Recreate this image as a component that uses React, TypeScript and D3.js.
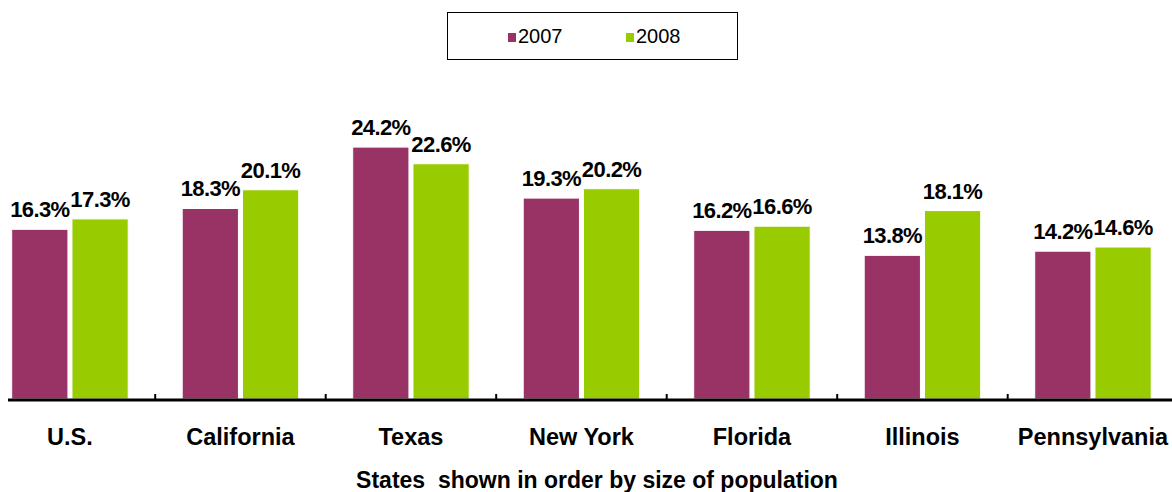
import React from 'react';
import { scaleBand, scaleLinear, select } from 'd3';

const categories = ['U.S.', 'California', 'Texas', 'New York', 'Florida', 'Illinois', 'Pennsylvania'];
const seriesNames = ['2007', '2008'];
const values2007 = [16.3, 18.3, 24.2, 19.3, 16.2, 13.8, 14.2];
const values2008 = [17.3, 20.1, 22.6, 20.2, 16.6, 18.1, 14.6];
const axisTitle = 'States  shown in order by size of population';

const colors = ['#993366', '#99cc00'];

const dims = {
    width: 1172,
    height: 492,
    baseY: 399,
    pxPerUnit: 10.41,
};

const font = '"Liberation Sans", Arial, sans-serif';

const App: React.FC = () => {
    const ref = React.useRef<SVGSVGElement>(null);

    React.useEffect(() => {
        const svg = select(ref.current);
        svg.selectAll('*').remove();

        const x = scaleBand<string>()
            .domain(categories)
            .range([-15.3, 1178.2])
            .paddingInner(54 / 170.5)
            .paddingOuter(27 / 170.5);
        const inner = scaleBand<string>()
            .domain(seriesNames)
            .range([0, x.bandwidth()])
            .paddingInner(4 / 60);
        const y = scaleLinear()
            .domain([0, 10])
            .range([dims.baseY, dims.baseY - dims.pxPerUnit * 10]);

        const rows = categories.map((c, i) => ({ cat: c, vals: [values2007[i], values2008[i]] }));

        const groups = svg.append('g').selectAll('g').data(rows).enter().append('g')
            .attr('transform', d => `translate(${x(d.cat)},0)`);

        groups.selectAll('rect')
            .data(d => d.vals.map((v, j) => ({ key: seriesNames[j], v, j })))
            .enter().append('rect')
            .attr('x', d => inner(d.key)!)
            .attr('y', d => y(d.v))
            .attr('width', inner.bandwidth())
            .attr('height', d => dims.baseY - y(d.v))
            .attr('fill', d => colors[d.j])
            .attr('stroke', '#fff')
            .attr('stroke-width', 1);

        groups.selectAll('text.val')
            .data(d => d.vals.map((v, j) => ({ key: seriesNames[j], v })))
            .enter().append('text')
            .attr('class', 'val')
            .attr('x', d => inner(d.key)! + inner.bandwidth() / 2)
            .attr('y', d => y(d.v) - 12)
            .attr('text-anchor', 'middle')
            .style('font-family', font)
            .style('font-weight', 'bold')
            .style('font-size', '22px')
            .style('letter-spacing', '-0.6px')
            .attr('fill', '#000')
            .text(d => `${d.v.toFixed(1)}%`);

        // axis line and ticks between categories
        svg.append('line')
            .attr('x1', 8).attr('x2', 1172)
            .attr('y1', dims.baseY + 1).attr('y2', dims.baseY + 1)
            .attr('stroke', '#000').attr('stroke-width', 3);
        const gap = x.step() - x.bandwidth();
        svg.append('g').selectAll('line').data(categories.slice(1)).enter().append('line')
            .attr('x1', d => x(d)! - gap / 2).attr('x2', d => x(d)! - gap / 2)
            .attr('y1', dims.baseY - 5).attr('y2', dims.baseY)
            .attr('stroke', '#000').attr('stroke-width', 2);

        svg.append('g').selectAll('text').data(categories).enter().append('text')
            .attr('x', d => x(d)! + x.bandwidth() / 2)
            .attr('y', 445)
            .attr('text-anchor', 'middle')
            .style('font-family', font)
            .style('font-weight', 'bold')
            .style('font-size', '23.5px')
            .text(d => d);

        svg.append('text')
            .attr('x', 597).attr('y', 488)
            .attr('text-anchor', 'middle')
            .style('font-family', font)
            .style('font-weight', 'bold')
            .style('font-size', '23px')
            .style('white-space', 'pre')
            .text(axisTitle);

        // legend
        const legend = svg.append('g');
        legend.append('rect')
            .attr('x', 447.5).attr('y', 12.5).attr('width', 290).attr('height', 47)
            .attr('fill', '#fff').attr('stroke', '#000').attr('stroke-width', 1);
        const lx = [508, 626];
        seriesNames.forEach((s, i) => {
            legend.append('rect')
                .attr('x', lx[i]).attr('y', 33).attr('width', 8).attr('height', 9)
                .attr('fill', colors[i]);
            legend.append('text')
                .attr('x', lx[i] + 10).attr('y', 43)
                .style('font-family', font)
                .style('font-size', '20px')
                .text(s);
        });
    }, []);

    return (
        <div style={{ position: 'absolute', left: 0, top: 0 }}>
            <svg ref={ref} width={dims.width} height={dims.height} style={{ display: 'block', background: '#fff' }} />
        </div>
    );
};

export default App;
